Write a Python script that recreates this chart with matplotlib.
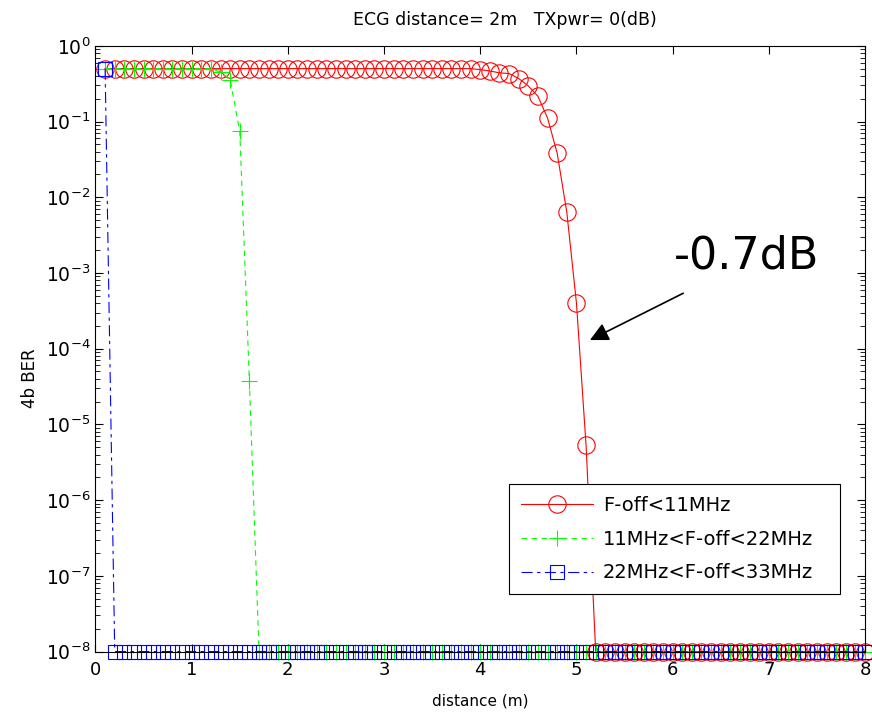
import numpy as np
import matplotlib
matplotlib.use("Agg")
import matplotlib.pyplot as plt

plt.rcParams['font.family'] = ['DejaVu Sans']
plt.rcParams['mathtext.fontset'] = 'dejavusans'

# distancia (m), paso de 0.1
distance = np.round(np.arange(1, 81) / 10, 1)

floor = 1e-8

# F-off < 11MHz
ber_11 = ([0.5] * 39 + [0.485]
          + [0.465, 0.44, 0.43, 0.37, 0.295, 0.215, 0.111, 0.038, 6.3e-3, 4.0e-4, 5.3e-6]
          + [floor] * 29)
# 11MHz < F-off < 22MHz
ber_22 = [0.5] * 12 + [0.45, 0.355, 0.074, 3.7e-5] + [floor] * 64
# 22MHz < F-off < 33MHz
ber_33 = [0.5] + [floor] * 79

labels = ['F-off<11MHz', '11MHz<F-off<22MHz', '22MHz<F-off<33MHz']

fig = plt.figure(figsize=(8.72, 7.16), dpi=100)
ax = fig.add_axes([0.1095, 0.09, 0.8825, 0.846])

ax.semilogy(distance, ber_11, color='red', linestyle='-', linewidth=0.8,
            marker='o', markersize=12.5, markerfacecolor='none', markeredgewidth=0.8,
            clip_on=False, label=labels[0])
ax.semilogy(distance, ber_22, color='#00ff00', linestyle='--', linewidth=0.8,
            dashes=(5, 4), marker='+', markersize=12, markeredgewidth=0.8,
            clip_on=False, label=labels[1])
ax.semilogy(distance, ber_33, color='blue', linestyle='-.', linewidth=0.8,
            dashes=(10, 4, 3, 4), marker='s', markersize=9.5, markerfacecolor='none',
            markeredgewidth=0.8, clip_on=False, label=labels[2])

ax.set_xlim(0, 8)
ax.set_ylim(1e-8, 1)
ax.set_xticks(range(0, 9))
ax.set_yticks([10.0 ** k for k in range(-8, 1)])

ax.tick_params(which='both', direction='in', top=True, right=True, labelsize=13)
ax.tick_params(axis='y', labelsize=13.5)
ax.tick_params(which='major', length=6)
ax.tick_params(which='minor', length=3.5)
ax.tick_params(axis='x', pad=7)
for s in ax.spines.values():
    s.set_linewidth(0.8)

ax.set_title('ECG distance= 2m   TXpwr= 0(dB)', fontsize=12.5, pad=15, x=0.532)
ax.set_xlabel('distance (m)', fontsize=11, labelpad=10)
ax.set_ylabel('4b BER', fontsize=12)
ax.yaxis.set_label_coords(-0.074, 0.452)

leg = ax.legend(loc='lower left', bbox_to_anchor=(0.538, 0.095, 0.429, 0.18),
                mode='expand', fontsize=14,
                handlelength=3.7, handletextpad=0.5, fancybox=False, framealpha=1,
                edgecolor='black', borderpad=0.6, labelspacing=0.76,
                borderaxespad=0)
leg.get_frame().set_linewidth(0.8)

ax.annotate('', xy=(5.14, 1.3e-4), xytext=(6.11, 5.4e-4),
            arrowprops=dict(arrowstyle='-|>', color='black', lw=1.2,
                            mutation_scale=28, shrinkA=0, shrinkB=0))
ax.text(6.77, 1.7e-3, '-0.7dB', fontsize=32, ha='center', va='center')

fig.savefig('out.png', dpi=100)
